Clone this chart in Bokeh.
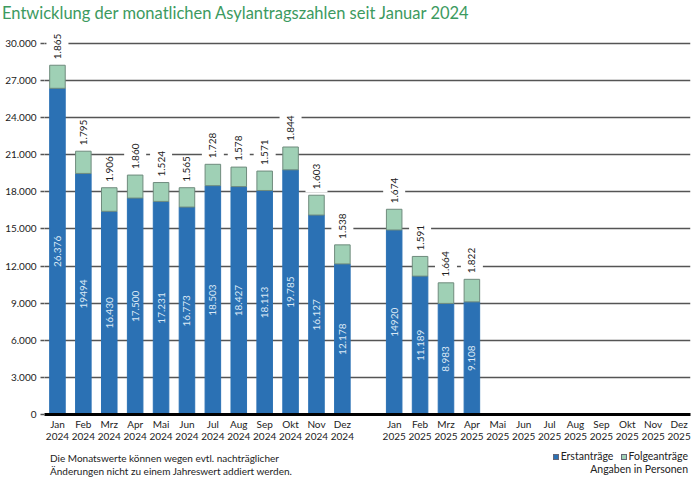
from math import pi

from bokeh.embed import file_html
from bokeh.resources import INLINE
from bokeh.core.properties import value
from bokeh.layouts import column, row
from bokeh.models import ColumnDataSource, Range1d, FixedTicker, LabelSet, Div
from bokeh.plotting import figure

# chart data
months = ["Jan", "Feb", "Mrz", "Apr", "Mai", "Jun",
          "Jul", "Aug", "Sep", "Okt", "Nov", "Dez"]
years = ["2024", "2025"]

erst_2024 = [26376, 19494, 16430, 17500, 17231, 16773,
             18503, 18427, 18113, 19785, 16127, 12178]
folge_2024 = [1865, 1795, 1906, 1860, 1524, 1565,
              1728, 1578, 1571, 1844, 1603, 1538]
erst_2025 = [14920, 11189, 8983, 9108]
folge_2025 = [1674, 1591, 1664, 1822]

erst_text = ["26.376", "19494", "16.430", "17.500", "17.231", "16.773",
             "18.503", "18.427", "18.113", "19.785", "16.127", "12.178",
             "14920", "11.189", "8.983", "9.108"]

y_ticks = list(range(0, 30001, 3000))

BLUE = "#2b71b4"
GREEN = "#9fd0b5"
FONT = "Lato"

Y_MAX = 31050
FRAME_H = 384
units_per_px = Y_MAX / FRAME_H

# 2024 in slots 0..11, one empty slot, 2025 in slots 13..24
x_2024 = list(range(12))
x_2025 = [13 + i for i in range(12)]
xs = x_2024 + x_2025[:len(erst_2025)]
erst = erst_2024 + erst_2025
folge = folge_2024 + folge_2025
total = [e + f for e, f in zip(erst, folge)]

src = ColumnDataSource(dict(
    x=xs,
    erst=erst,
    total=total,
    mid=[e / 2 for e in erst],
    gap=[t + 17 * units_per_px for t in total],
    erst_text=erst_text,
    folge_text=["{:,}".format(f).replace(",", ".") for f in folge],
))

p = figure(width=700, height=418, output_backend="svg", toolbar_location=None,
           x_range=Range1d(-0.5, 24.44), y_range=Range1d(0, Y_MAX),
           min_border_left=44, min_border_right=10,
           min_border_top=4, min_border_bottom=30, margin=0)
p.outline_line_color = None

# bars
p.vbar(x="x", bottom=0, top="erst", width=0.6, source=src,
       fill_color=BLUE, line_color=BLUE, line_width=1)
p.vbar(x="x", bottom="erst", top="total", width=0.6, source=src,
       fill_color=GREEN, line_color="#6f8b7d", line_width=1)
# white gap in the grid behind the values above the bars
p.rect(x="x", y="gap", width=22, height=28, width_units="screen", height_units="screen",
       source=src, fill_color="white", line_color=None)

# axes
p.yaxis.ticker = FixedTicker(ticks=y_ticks)
p.yaxis.major_label_overrides = {t: "{:,}".format(t).replace(",", ".") for t in y_ticks}
p.yaxis.axis_line_color = None
p.yaxis.major_tick_line_color = "#555555"
p.yaxis.major_tick_line_width = 1.5
p.yaxis.major_tick_out = 4
p.yaxis.major_tick_in = 0
p.yaxis.minor_tick_line_color = None
p.yaxis.major_label_standoff = 4
p.yaxis.major_label_text_font = FONT
p.yaxis.major_label_text_font_size = "10px"
p.yaxis.major_label_text_color = "#222222"

all_x = x_2024 + x_2025
p.xaxis.ticker = FixedTicker(ticks=all_x)
p.xaxis.major_label_overrides = {
    x: months[i % 12] + "\n" + years[i // 12] for i, x in enumerate(all_x)}
p.xaxis.axis_line_color = "black"
p.xaxis.axis_line_width = 3
p.xaxis.major_tick_line_color = None
p.xaxis.major_tick_out = 0
p.xaxis.major_tick_in = 0
p.xaxis.minor_tick_line_color = None
p.xaxis.major_label_standoff = 3
p.xaxis.major_label_text_font = FONT
p.xaxis.major_label_text_font_size = "10px"
p.xaxis.major_label_text_color = "#222222"
p.xaxis.major_label_text_line_height = 1.0

p.xgrid.grid_line_color = None
p.ygrid.ticker = FixedTicker(ticks=y_ticks[1:])
p.ygrid.grid_line_color = "#555555"
p.ygrid.grid_line_width = 1.5

# value labels
p.add_layout(LabelSet(x="x", y="mid", text="erst_text", source=src, angle=pi / 2,
                      text_align="center", text_baseline="middle",
                      text_font=value(FONT), text_font_size="10px", text_color="#dbe9f6"))
p.add_layout(LabelSet(x="x", y="total", text="folge_text", source=src, angle=pi / 2,
                      y_offset=6, text_align="left", text_baseline="middle",
                      text_font=value(FONT), text_font_size="10px", text_color="#222222"))

# title, footnote and legend as plain text around the chart
title = Div(text='<div style="font-family:Lato;font-size:16.5px;color:#3c9a60;'
                 'line-height:18px;padding:4px 0 0 2px;white-space:nowrap">'
                 'Entwicklung der monatlichen Asylantragszahlen seit Januar 2024</div>',
            width=700, height=26, margin=0)

note = Div(text='<div style="font-family:Lato;font-size:10px;color:#222;'
                'line-height:13px;padding:8px 0 0 50px;white-space:nowrap">'
                'Die Monatswerte können wegen evtl. nachträglicher<br>'
                'Änderungen nicht zu einem Jahreswert addiert werden.</div>',
           width=400, height=39, margin=0)

legend_names = ["Erstanträge", "Folgeanträge"]
legend_colors = [BLUE, GREEN]
swatches = "&emsp;".join(
    '<span style="display:inline-block;width:6px;height:6px;background:{};'
    'border:1px solid #667"></span>&thinsp;{}'.format(c, n)
    for n, c in zip(legend_names, legend_colors))
legend = Div(text='<div style="display:block;width:288px;font-family:Lato;font-size:10.5px;'
                  'color:#222;line-height:13px;padding:6px 0 0 0;text-align:right;'
                  'white-space:nowrap">'
                  + swatches + '<br>Angaben in Personen</div>',
             width=300, height=39, margin=0)

layout = column(title, p, row(note, legend, spacing=0, margin=0), spacing=0, margin=0)

open("out.html", "w").write(file_html(layout, INLINE))
